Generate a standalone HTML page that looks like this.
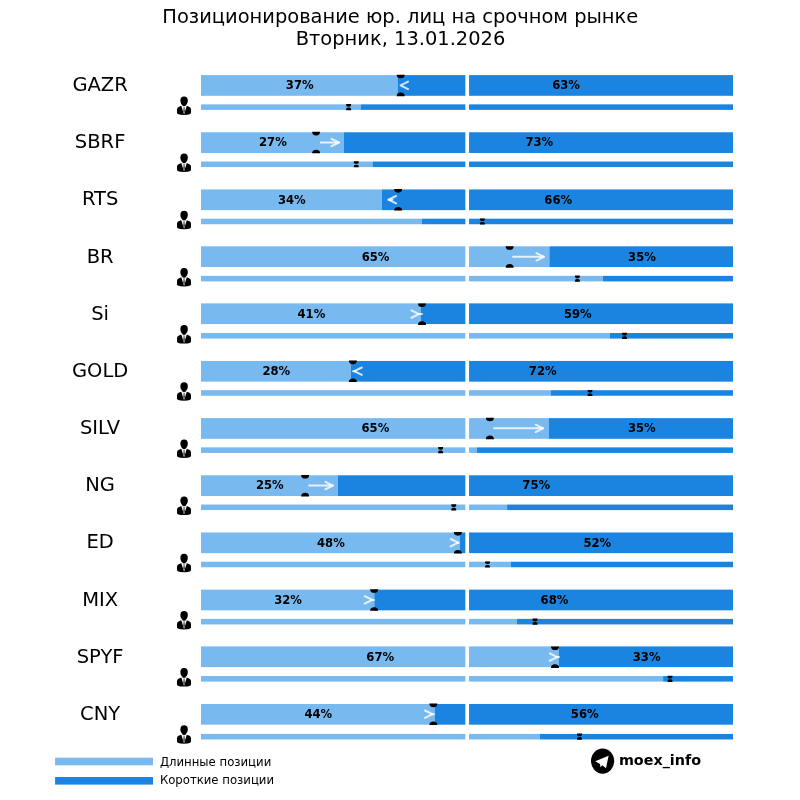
<!DOCTYPE html>
<html lang="ru"><head><meta charset="utf-8"><title>Позиционирование юр. лиц на срочном рынке</title>
<style>
html,body{margin:0;padding:0;background:#fff;}
body{width:800px;height:800px;overflow:hidden;}
svg{display:block;font-family:"DejaVu Sans","Liberation Sans",sans-serif;}
.t{font-size:19.45px;fill:#000;text-anchor:middle;}
.l{font-size:19.5px;fill:#000;text-anchor:middle;}
.p{font-size:11.6px;font-weight:bold;fill:#000;text-anchor:middle;}
.g{font-size:11.7px;fill:#000;}
.m{font-size:14.35px;font-weight:bold;fill:#000;}
.a{fill:none;stroke:rgba(255,255,255,0.8);stroke-width:2;stroke-linecap:round;stroke-linejoin:round;}
</style></head><body>
<svg width="800" height="800" viewBox="0 0 800 800">
<defs>
<g id="man"><path d="M7.1 0 C9.6 0 10.8 1.6 10.8 4 C10.8 6.6 9.4 9.3 7.1 9.3 C4.8 9.3 3.4 6.6 3.4 4 C3.4 1.6 4.6 0 7.1 0 Z" fill="#000"/><rect x="5.6" y="8" width="3" height="1.6" fill="#000"/><path d="M4.3 9.4 L1.5 10.6 Q0 11.3 0 13 L0 16.8 Q1 18 3.5 18.3 L7 18.5 L10.5 18.3 Q13 18 14 16.8 L14 13 Q14 11.3 12.5 10.6 L9.8 9.4 L7.05 18.0 Z" fill="#000"/><path d="M6.55 10.4 L7.55 10.4 L7.4 11.4 L7.7 15 L7.05 16.6 L6.4 15 L6.7 11.4 Z" fill="#000"/></g>
</defs>
<rect width="800" height="800" fill="#fff"/>
<text class="t" x="400.3" y="23.1">Позиционирование юр. лиц на срочном рынке</text>
<text class="t" x="400.5" y="44.7">Вторник, 13.01.2026</text>
<g>
<text class="l" x="100.1" y="91.00">GAZR</text>
<use href="#man" x="177" y="96.40"/>
<rect x="201.00" y="75.10" width="196.60" height="20.70" fill="#78b9f0"/>
<rect x="397.60" y="75.10" width="335.40" height="20.70" fill="#1a84e0"/>
<rect x="201.00" y="104.35" width="159.90" height="5.55" fill="#78b9f0"/>
<rect x="360.90" y="104.35" width="372.10" height="5.55" fill="#1a84e0"/>
<rect x="465.35" y="74.10" width="3.7" height="36.80" fill="#fff"/>
<path d="M396.70 74.70 L404.70 74.70 A4.00 3.60 0 0 1 396.70 74.70 Z" fill="#000"/>
<path d="M396.70 96.20 L404.70 96.20 A4.00 3.60 0 0 0 396.70 96.20 Z" fill="#000"/>
<path d="M346.15 104.05 H351.05 V105.00 Q351.05 106.70 349.35 106.70 H347.85 Q346.15 106.70 346.15 105.00 Z" fill="#000"/>
<path d="M346.15 110.20 H351.05 V109.25 Q351.05 107.55 349.35 107.55 H347.85 Q346.15 107.55 346.15 109.25 Z" fill="#000"/>
<path class="a" d="M408.05 81.65 L400.55 85.35 L408.05 89.05"/>
<text class="p" x="299.70" y="89.25">37%</text>
<text class="p" x="566.10" y="89.25">63%</text>
</g>
<g>
<text class="l" x="100.1" y="148.17">SBRF</text>
<use href="#man" x="177" y="153.57"/>
<rect x="201.00" y="132.27" width="143.00" height="20.70" fill="#78b9f0"/>
<rect x="344.00" y="132.27" width="389.00" height="20.70" fill="#1a84e0"/>
<rect x="201.00" y="161.52" width="171.50" height="5.55" fill="#78b9f0"/>
<rect x="372.50" y="161.52" width="360.50" height="5.55" fill="#1a84e0"/>
<rect x="465.35" y="131.27" width="3.7" height="36.80" fill="#fff"/>
<path d="M312.10 131.87 L320.10 131.87 A4.00 3.60 0 0 1 312.10 131.87 Z" fill="#000"/>
<path d="M312.10 153.37 L320.10 153.37 A4.00 3.60 0 0 0 312.10 153.37 Z" fill="#000"/>
<path d="M353.80 161.22 H358.70 V162.17 Q358.70 163.87 357.00 163.87 H355.50 Q353.80 163.87 353.80 162.17 Z" fill="#000"/>
<path d="M353.80 167.37 H358.70 V166.42 Q358.70 164.72 357.00 164.72 H355.50 Q353.80 164.72 353.80 166.42 Z" fill="#000"/>
<path class="a" d="M320.80 142.52 L338.95 142.52"/>
<path class="a" d="M331.45 138.82 L338.95 142.52 L331.45 146.22"/>
<text class="p" x="272.90" y="146.42">27%</text>
<text class="p" x="539.30" y="146.42">73%</text>
</g>
<g>
<text class="l" x="100.1" y="205.34">RTS</text>
<use href="#man" x="177" y="210.74"/>
<rect x="201.00" y="189.44" width="180.90" height="20.70" fill="#78b9f0"/>
<rect x="381.90" y="189.44" width="351.10" height="20.70" fill="#1a84e0"/>
<rect x="201.00" y="218.69" width="221.00" height="5.55" fill="#78b9f0"/>
<rect x="422.00" y="218.69" width="311.00" height="5.55" fill="#1a84e0"/>
<rect x="465.35" y="188.44" width="3.7" height="36.80" fill="#fff"/>
<path d="M394.10 189.04 L402.10 189.04 A4.00 3.60 0 0 1 394.10 189.04 Z" fill="#000"/>
<path d="M394.10 210.54 L402.10 210.54 A4.00 3.60 0 0 0 394.10 210.54 Z" fill="#000"/>
<path d="M479.95 218.39 H484.85 V219.34 Q484.85 221.04 483.15 221.04 H481.65 Q479.95 221.04 479.95 219.34 Z" fill="#000"/>
<path d="M479.95 224.54 H484.85 V223.59 Q484.85 221.89 483.15 221.89 H481.65 Q479.95 221.89 479.95 223.59 Z" fill="#000"/>
<path class="a" d="M392.45 199.69 L388.55 199.69"/>
<path class="a" d="M396.05 195.99 L388.55 199.69 L396.05 203.39"/>
<text class="p" x="291.85" y="203.59">34%</text>
<text class="p" x="558.25" y="203.59">66%</text>
</g>
<g>
<text class="l" x="100.1" y="262.51">BR</text>
<use href="#man" x="177" y="267.91"/>
<rect x="201.00" y="246.31" width="348.40" height="20.70" fill="#78b9f0"/>
<rect x="549.40" y="246.31" width="183.60" height="20.70" fill="#1a84e0"/>
<rect x="201.00" y="275.86" width="402.00" height="5.55" fill="#78b9f0"/>
<rect x="603.00" y="275.86" width="130.00" height="5.55" fill="#1a84e0"/>
<rect x="465.35" y="245.61" width="3.7" height="36.80" fill="#fff"/>
<path d="M505.65 246.21 L513.65 246.21 A4.00 3.60 0 0 1 505.65 246.21 Z" fill="#000"/>
<path d="M505.65 267.71 L513.65 267.71 A4.00 3.60 0 0 0 505.65 267.71 Z" fill="#000"/>
<path d="M574.95 275.56 H579.85 V276.51 Q579.85 278.21 578.15 278.21 H576.65 Q574.95 278.21 574.95 276.51 Z" fill="#000"/>
<path d="M574.95 281.71 H579.85 V280.76 Q579.85 279.06 578.15 279.06 H576.65 Q574.95 279.06 574.95 280.76 Z" fill="#000"/>
<path class="a" d="M513.05 256.86 L543.95 256.86"/>
<path class="a" d="M536.45 253.16 L543.95 256.86 L536.45 260.56"/>
<text class="p" x="375.60" y="260.76">65%</text>
<text class="p" x="642.00" y="260.76">35%</text>
</g>
<g>
<text class="l" x="100.1" y="319.68">Si</text>
<use href="#man" x="177" y="325.08"/>
<rect x="201.00" y="303.38" width="220.00" height="20.70" fill="#78b9f0"/>
<rect x="421.00" y="303.38" width="312.00" height="20.70" fill="#1a84e0"/>
<rect x="201.00" y="333.03" width="408.90" height="5.55" fill="#78b9f0"/>
<rect x="609.90" y="333.03" width="123.10" height="5.55" fill="#1a84e0"/>
<rect x="465.35" y="302.78" width="3.7" height="36.80" fill="#fff"/>
<path d="M418.00 303.38 L426.00 303.38 A4.00 3.60 0 0 1 418.00 303.38 Z" fill="#000"/>
<path d="M418.00 324.88 L426.00 324.88 A4.00 3.60 0 0 0 418.00 324.88 Z" fill="#000"/>
<path d="M622.05 332.73 H626.95 V333.68 Q626.95 335.38 625.25 335.38 H623.75 Q622.05 335.38 622.05 333.68 Z" fill="#000"/>
<path d="M622.05 338.88 H626.95 V337.93 Q626.95 336.23 625.25 336.23 H623.75 Q622.05 336.23 622.05 337.93 Z" fill="#000"/>
<path class="a" d="M411.45 310.33 L418.95 314.03 L411.45 317.73"/>
<path class="a" d="M417.95 314.03 L421.95 314.03"/>
<text class="p" x="311.40" y="317.93">41%</text>
<text class="p" x="577.80" y="317.93">59%</text>
</g>
<g>
<text class="l" x="100.1" y="376.85">GOLD</text>
<use href="#man" x="177" y="382.25"/>
<rect x="201.00" y="360.95" width="149.80" height="20.70" fill="#78b9f0"/>
<rect x="350.80" y="360.95" width="382.20" height="20.70" fill="#1a84e0"/>
<rect x="201.00" y="390.20" width="349.70" height="5.55" fill="#78b9f0"/>
<rect x="550.70" y="390.20" width="182.30" height="5.55" fill="#1a84e0"/>
<rect x="465.35" y="359.95" width="3.7" height="36.80" fill="#fff"/>
<path d="M348.90 360.55 L356.90 360.55 A4.00 3.60 0 0 1 348.90 360.55 Z" fill="#000"/>
<path d="M348.90 382.05 L356.90 382.05 A4.00 3.60 0 0 0 348.90 382.05 Z" fill="#000"/>
<path d="M587.55 389.90 H592.45 V390.85 Q592.45 392.55 590.75 392.55 H589.25 Q587.55 392.55 587.55 390.85 Z" fill="#000"/>
<path d="M587.55 396.05 H592.45 V395.10 Q592.45 393.40 590.75 393.40 H589.25 Q587.55 393.40 587.55 395.10 Z" fill="#000"/>
<path class="a" d="M361.80 367.50 L354.30 371.20 L361.80 374.90"/>
<path class="a" d="M355.30 371.20 L353.05 371.20"/>
<text class="p" x="276.30" y="375.10">28%</text>
<text class="p" x="542.70" y="375.10">72%</text>
</g>
<g>
<text class="l" x="100.1" y="434.02">SILV</text>
<use href="#man" x="177" y="439.42"/>
<rect x="201.00" y="418.12" width="348.00" height="20.70" fill="#78b9f0"/>
<rect x="549.00" y="418.12" width="184.00" height="20.70" fill="#1a84e0"/>
<rect x="201.00" y="447.37" width="275.75" height="5.55" fill="#78b9f0"/>
<rect x="476.75" y="447.37" width="256.25" height="5.55" fill="#1a84e0"/>
<rect x="465.35" y="417.12" width="3.7" height="36.80" fill="#fff"/>
<path d="M485.90 417.72 L493.90 417.72 A4.00 3.60 0 0 1 485.90 417.72 Z" fill="#000"/>
<path d="M485.90 439.22 L493.90 439.22 A4.00 3.60 0 0 0 485.90 439.22 Z" fill="#000"/>
<path d="M438.15 447.07 H443.05 V448.02 Q443.05 449.72 441.35 449.72 H439.85 Q438.15 449.72 438.15 448.02 Z" fill="#000"/>
<path d="M438.15 453.22 H443.05 V452.27 Q443.05 450.57 441.35 450.57 H439.85 Q438.15 450.57 438.15 452.27 Z" fill="#000"/>
<path class="a" d="M494.15 428.37 L543.15 428.37"/>
<path class="a" d="M535.65 424.67 L543.15 428.37 L535.65 432.07"/>
<text class="p" x="375.40" y="432.27">65%</text>
<text class="p" x="641.80" y="432.27">35%</text>
</g>
<g>
<text class="l" x="100.1" y="491.19">NG</text>
<use href="#man" x="177" y="496.59"/>
<rect x="201.00" y="475.29" width="136.90" height="20.70" fill="#78b9f0"/>
<rect x="337.90" y="475.29" width="395.10" height="20.70" fill="#1a84e0"/>
<rect x="201.00" y="504.54" width="306.10" height="5.55" fill="#78b9f0"/>
<rect x="507.10" y="504.54" width="225.90" height="5.55" fill="#1a84e0"/>
<rect x="465.35" y="474.29" width="3.7" height="36.80" fill="#fff"/>
<path d="M301.10 474.89 L309.10 474.89 A4.00 3.60 0 0 1 301.10 474.89 Z" fill="#000"/>
<path d="M301.10 496.39 L309.10 496.39 A4.00 3.60 0 0 0 301.10 496.39 Z" fill="#000"/>
<path d="M451.30 504.24 H456.20 V505.19 Q456.20 506.89 454.50 506.89 H453.00 Q451.30 506.89 451.30 505.19 Z" fill="#000"/>
<path d="M451.30 510.39 H456.20 V509.44 Q456.20 507.74 454.50 507.74 H453.00 Q451.30 507.74 451.30 509.44 Z" fill="#000"/>
<path class="a" d="M309.15 485.54 L332.95 485.54"/>
<path class="a" d="M325.45 481.84 L332.95 485.54 L325.45 489.24"/>
<text class="p" x="269.85" y="489.44">25%</text>
<text class="p" x="536.25" y="489.44">75%</text>
</g>
<g>
<text class="l" x="100.1" y="548.36">ED</text>
<use href="#man" x="177" y="553.76"/>
<rect x="201.00" y="532.46" width="259.00" height="20.70" fill="#78b9f0"/>
<rect x="460.00" y="532.46" width="273.00" height="20.70" fill="#1a84e0"/>
<rect x="201.00" y="561.71" width="310.00" height="5.55" fill="#78b9f0"/>
<rect x="511.00" y="561.71" width="222.00" height="5.55" fill="#1a84e0"/>
<rect x="465.35" y="531.46" width="3.7" height="36.80" fill="#fff"/>
<path d="M453.90 532.06 L461.90 532.06 A4.00 3.60 0 0 1 453.90 532.06 Z" fill="#000"/>
<path d="M453.90 553.56 L461.90 553.56 A4.00 3.60 0 0 0 453.90 553.56 Z" fill="#000"/>
<path d="M485.05 561.41 H489.95 V562.36 Q489.95 564.06 488.25 564.06 H486.75 Q485.05 564.06 485.05 562.36 Z" fill="#000"/>
<path d="M485.05 567.56 H489.95 V566.61 Q489.95 564.91 488.25 564.91 H486.75 Q485.05 564.91 485.05 566.61 Z" fill="#000"/>
<path class="a" d="M450.70 539.01 L458.20 542.71 L450.70 546.41"/>
<path class="a" d="M457.20 542.71 L458.70 542.71"/>
<text class="p" x="330.90" y="546.61">48%</text>
<text class="p" x="597.30" y="546.61">52%</text>
</g>
<g>
<text class="l" x="100.1" y="605.53">MIX</text>
<use href="#man" x="177" y="610.93"/>
<rect x="201.00" y="589.63" width="173.30" height="20.70" fill="#78b9f0"/>
<rect x="374.30" y="589.63" width="358.70" height="20.70" fill="#1a84e0"/>
<rect x="201.00" y="618.88" width="315.90" height="5.55" fill="#78b9f0"/>
<rect x="516.90" y="618.88" width="216.10" height="5.55" fill="#1a84e0"/>
<rect x="465.35" y="588.63" width="3.7" height="36.80" fill="#fff"/>
<path d="M370.10 589.23 L378.10 589.23 A4.00 3.60 0 0 1 370.10 589.23 Z" fill="#000"/>
<path d="M370.10 610.73 L378.10 610.73 A4.00 3.60 0 0 0 370.10 610.73 Z" fill="#000"/>
<path d="M532.55 618.58 H537.45 V619.53 Q537.45 621.23 535.75 621.23 H534.25 Q532.55 621.23 532.55 619.53 Z" fill="#000"/>
<path d="M532.55 624.73 H537.45 V623.78 Q537.45 622.08 535.75 622.08 H534.25 Q532.55 622.08 532.55 623.78 Z" fill="#000"/>
<path class="a" d="M364.70 596.18 L372.20 599.88 L364.70 603.58"/>
<path class="a" d="M371.20 599.88 L373.95 599.88"/>
<text class="p" x="288.05" y="603.78">32%</text>
<text class="p" x="554.45" y="603.78">68%</text>
</g>
<g>
<text class="l" x="100.1" y="662.70">SPYF</text>
<use href="#man" x="177" y="668.10"/>
<rect x="201.00" y="646.40" width="357.70" height="20.70" fill="#78b9f0"/>
<rect x="558.70" y="646.40" width="174.30" height="20.70" fill="#1a84e0"/>
<rect x="201.00" y="676.05" width="462.10" height="5.55" fill="#78b9f0"/>
<rect x="663.10" y="676.05" width="69.90" height="5.55" fill="#1a84e0"/>
<rect x="465.35" y="645.80" width="3.7" height="36.80" fill="#fff"/>
<path d="M551.00 646.40 L559.00 646.40 A4.00 3.60 0 0 1 551.00 646.40 Z" fill="#000"/>
<path d="M551.00 667.90 L559.00 667.90 A4.00 3.60 0 0 0 551.00 667.90 Z" fill="#000"/>
<path d="M667.55 675.75 H672.45 V676.70 Q672.45 678.40 670.75 678.40 H669.25 Q667.55 678.40 667.55 676.70 Z" fill="#000"/>
<path d="M667.55 681.90 H672.45 V680.95 Q672.45 679.25 670.75 679.25 H669.25 Q667.55 679.25 667.55 680.95 Z" fill="#000"/>
<path class="a" d="M549.75 653.35 L557.25 657.05 L549.75 660.75"/>
<path class="a" d="M556.25 657.05 L558.95 657.05"/>
<text class="p" x="380.25" y="660.95">67%</text>
<text class="p" x="646.65" y="660.95">33%</text>
</g>
<g>
<text class="l" x="100.1" y="719.87">CNY</text>
<use href="#man" x="177" y="725.27"/>
<rect x="201.00" y="703.97" width="233.80" height="20.70" fill="#78b9f0"/>
<rect x="434.80" y="703.97" width="298.20" height="20.70" fill="#1a84e0"/>
<rect x="201.00" y="733.92" width="339.00" height="5.55" fill="#78b9f0"/>
<rect x="540.00" y="733.92" width="193.00" height="5.55" fill="#1a84e0"/>
<rect x="465.35" y="702.97" width="3.7" height="36.80" fill="#fff"/>
<path d="M429.35 703.57 L437.35 703.57 A4.00 3.60 0 0 1 429.35 703.57 Z" fill="#000"/>
<path d="M429.35 725.07 L437.35 725.07 A4.00 3.60 0 0 0 429.35 725.07 Z" fill="#000"/>
<path d="M577.05 733.62 H581.95 V734.57 Q581.95 736.27 580.25 736.27 H578.75 Q577.05 736.27 577.05 734.57 Z" fill="#000"/>
<path d="M577.05 739.77 H581.95 V738.82 Q581.95 737.12 580.25 737.12 H578.75 Q577.05 737.12 577.05 738.82 Z" fill="#000"/>
<path class="a" d="M424.95 710.52 L432.45 714.22 L424.95 717.92"/>
<path class="a" d="M431.45 714.22 L433.95 714.22"/>
<text class="p" x="318.30" y="718.12">44%</text>
<text class="p" x="584.70" y="718.12">56%</text>
</g>
<rect x="55.1" y="757.7" width="97.9" height="7.6" fill="#78b9f0"/>
<rect x="55.1" y="777.0" width="97.9" height="7.6" fill="#1a84e0"/>
<text class="g" x="159.9" y="765.5">Длинные позиции</text>
<text class="g" x="159.9" y="783.9">Короткие позиции</text>
<ellipse cx="602.6" cy="761.1" rx="11.6" ry="12.6" fill="#000"/>
<path d="M595.2 761.3 L608.6 755.8 L606 768.2 L602.3 765.2 L600.5 767.2 L600 764 Z" fill="#fff"/>
<text class="m" x="618.9" y="765.4">moex_info</text>
</svg>
</body></html>
